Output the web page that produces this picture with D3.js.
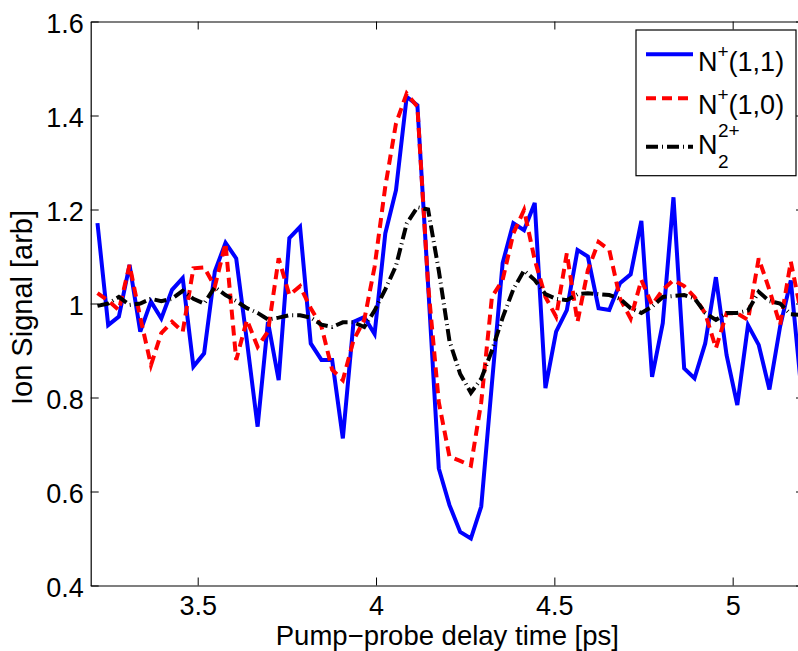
<!DOCTYPE html>
<html>
<head>
<meta charset="utf-8">
<script src="https://cdn.jsdelivr.net/npm/d3@7"></script>
<style>
  body { margin: 0; background: #fff; }
  svg { display: block; font-family: "Liberation Sans", Arial, Helvetica, sans-serif; }
</style>
</head>
<body>
<svg id="chart" width="798" height="651"></svg>
<script>
// delay times [ps]
const times = [3.219, 3.249, 3.279, 3.309, 3.339, 3.369, 3.398, 3.428, 3.458, 3.488,
  3.518, 3.548, 3.578, 3.608, 3.638, 3.668, 3.697, 3.727, 3.757, 3.787,
  3.817, 3.847, 3.877, 3.907, 3.937, 3.967, 3.996, 4.026, 4.056, 4.086,
  4.116, 4.146, 4.176, 4.206, 4.236, 4.266, 4.295, 4.325, 4.355, 4.385,
  4.415, 4.445, 4.475, 4.505, 4.535, 4.565, 4.594, 4.624, 4.654, 4.684,
  4.714, 4.744, 4.774, 4.804, 4.834, 4.864, 4.893, 4.923, 4.953, 4.983,
  5.013, 5.043, 5.073, 5.103, 5.133, 5.163, 5.192]

// N+(1,1)
const n11 = [1.171, 0.954, 0.972, 1.082, 0.940, 1.004, 0.968, 1.029, 1.054, 0.866,
  0.894, 1.068, 1.129, 1.096, 0.920, 0.738, 0.961, 0.837, 1.139, 1.163,
  0.915, 0.880, 0.880, 0.713, 0.961, 0.971, 0.935, 1.149, 1.241, 1.440,
  1.422, 1.040, 0.649, 0.571, 0.514, 0.500, 0.568, 0.830, 1.086, 1.171,
  1.156, 1.214, 0.820, 0.940, 0.986, 1.114, 1.100, 0.990, 0.986, 1.043,
  1.062, 1.176, 0.844, 0.958, 1.226, 0.862, 0.841, 0.915, 1.056, 0.890,
  0.784, 0.954, 0.912, 0.817, 0.951, 1.049, 0.820]

// N+(1,0)
const n10 = [1.022, 1.006, 0.986, 1.082, 0.970, 0.869, 0.937, 0.961, 0.940, 1.075,
  1.077, 1.036, 1.128, 0.880, 0.965, 0.908, 0.940, 1.096, 1.018, 1.037,
  0.990, 0.951, 0.859, 0.837, 0.922, 0.965, 1.078, 1.249, 1.383, 1.447,
  1.419, 1.040, 0.790, 0.674, 0.665, 0.655, 0.790, 1.014, 1.050, 1.149,
  1.199, 1.093, 1.014, 0.972, 1.107, 0.961, 1.071, 1.131, 1.114, 1.011,
  0.968, 1.050, 0.997, 1.029, 1.050, 1.037, 1.014, 0.979, 0.905, 0.979,
  0.979, 0.965, 1.096, 1.029, 0.954, 1.089, 0.980]

// N2 2+
const n22 = [0.995, 1.000, 1.014, 0.997, 1.000, 1.010, 1.005, 1.010, 1.027, 1.010,
  1.000, 1.035, 1.018, 1.005, 0.990, 0.980, 0.966, 0.970, 0.975, 0.975,
  0.970, 0.955, 0.950, 0.960, 0.960, 0.950, 0.985, 1.030, 1.080, 1.170,
  1.205, 1.200, 1.070, 0.920, 0.850, 0.810, 0.840, 0.900, 0.970, 1.030,
  1.070, 1.050, 1.020, 1.010, 1.007, 1.020, 1.022, 1.020, 1.018, 1.010,
  0.990, 0.980, 0.993, 1.014, 1.016, 1.018, 1.011, 0.980, 0.965, 0.980,
  0.980, 0.985, 1.025, 1.005, 1.000, 0.977, 0.976]

const xTicks = [3.5, 4, 4.5, 5]
const yTicks = [0.4, 0.6, 0.8, 1, 1.2, 1.4, 1.6]

const series = [
  { name: "n11", values: n11, color: "#0000ff", dash: null },
  { name: "n10", values: n10, color: "#ff0000", dash: "10,6" },
  { name: "n22", values: n22, color: "#000000", dash: "12,4,1,4" }
]

const margin = { left: 90.7, top: 21.5 }
const plotRight = 804, plotBottom = 585.5
const fontSize = 27

const svg = d3.select("#chart")

const x = d3.scaleLinear().domain([3.2, 5.2]).range([margin.left, plotRight])
const y = d3.scaleLinear().domain([0.4, 1.6]).range([plotBottom, margin.top])
const fmt = d3.format("~g")

// lines
const line = d3.line()
  .x((d, i) => x(times[i]))
  .y(d => y(d))

svg.append("g")
  .selectAll("path")
  .data(series)
  .join("path")
  .attr("d", d => line(d.values))
  .attr("fill", "none")
  .attr("stroke", d => d.color)
  .attr("stroke-width", 4)
  .attr("stroke-linejoin", "miter")
  .attr("stroke-dasharray", d => d.dash)

// axes box
const axisBottom = svg.append("g")
  .attr("transform", `translate(0,${plotBottom})`)
  .call(d3.axisBottom(x).tickValues(xTicks).tickSizeInner(-8).tickSizeOuter(0).tickFormat(fmt))
const axisTop = svg.append("g")
  .attr("transform", `translate(0,${margin.top})`)
  .call(d3.axisTop(x).tickValues(xTicks).tickSizeInner(-8).tickSizeOuter(0).tickFormat(""))
const axisLeft = svg.append("g")
  .attr("transform", `translate(${margin.left},0)`)
  .call(d3.axisLeft(y).tickValues(yTicks).tickSizeInner(-8).tickSizeOuter(0).tickFormat(fmt))
const axisRight = svg.append("g")
  .attr("transform", `translate(${plotRight},0)`)
  .call(d3.axisRight(y).tickValues(yTicks).tickSizeInner(-8).tickSizeOuter(0).tickFormat(""))

for (let a of [axisBottom, axisTop, axisLeft, axisRight]) {
  a.select(".domain").attr("stroke", "#000").attr("stroke-width", 1.2)
  a.selectAll(".tick line").attr("stroke", "#000").attr("stroke-width", 1)
  a.selectAll("text").attr("font-family", null).attr("fill", "#000").attr("font-size", fontSize)
}
axisBottom.selectAll(".tick text").attr("y", 29.5).attr("dy", null)
axisLeft.selectAll(".tick text").attr("x", -7).attr("dy", 11)

// axis labels
svg.append("text")
  .attr("x", (margin.left + plotRight) / 2)
  .attr("y", 645)
  .attr("text-anchor", "middle")
  .attr("font-size", 27.5)
  .text("Pump\u2212probe delay time [ps]")

svg.append("text")
  .attr("transform", `translate(32,${(margin.top + plotBottom) / 2 + 4}) rotate(-90)`)
  .attr("text-anchor", "middle")
  .attr("font-size", 29)
  .text("Ion Signal [arb]")

// legend
const legend = svg.append("g")
legend.append("rect")
  .attr("x", 636).attr("y", 30)
  .attr("width", 160).attr("height", 145.7)
  .attr("fill", "#fff").attr("stroke", "#000").attr("stroke-width", 1.2)

const legRows = [54.3, 98.3, 146.7]
legend.selectAll("line")
  .data(series)
  .join("line")
  .attr("x1", 646).attr("x2", 693)
  .attr("y1", (d, i) => legRows[i]).attr("y2", (d, i) => legRows[i])
  .attr("stroke", d => d.color)
  .attr("stroke-width", 4)
  .attr("stroke-dasharray", d => d.dash)

function supLabel(yBase, tail) {
  const t = legend.append("text").attr("x", 698).attr("y", yBase).attr("font-size", fontSize)
  t.append("tspan").text("N")
  t.append("tspan").attr("font-size", 19).attr("dy", -13).text("+")
  t.append("tspan").attr("dy", 13).text(tail)
}
supLabel(70.5, "(1,1)")
supLabel(114, "(1,0)")

legend.append("text").attr("x", 698).attr("y", 153.5).attr("font-size", fontSize).text("N")
legend.append("text").attr("x", 718).attr("y", 168).attr("font-size", 19).text("2")
legend.append("text").attr("x", 718).attr("y", 137).attr("font-size", 19).text("2+")
</script>
</body>
</html>
